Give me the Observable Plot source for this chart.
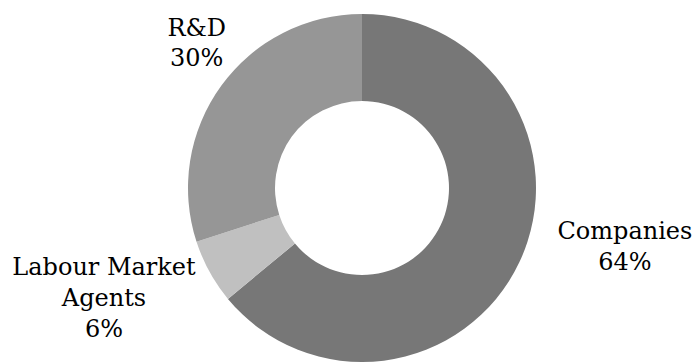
<!DOCTYPE html>
<html><head><meta charset="utf-8">
<script src="https://cdn.jsdelivr.net/npm/d3@7"></script>
<script src="https://cdn.jsdelivr.net/npm/@observablehq/plot@0.6"></script>
<style>html,body{margin:0;padding:0;background:#fff;}
#chart svg, #chart svg text { font-family: "DejaVu Serif", serif !important; }</style>
</head><body><div id="chart"></div>
<script>
// Data
const categories = ["Companies", "Labour Market Agents", "R&D"];
const labelLines = ["Companies", "Labour Market\nAgents", "R&D"];
const shares = [64, 6, 30];
const colors = ["#777777", "#c0c0c0", "#969696"];

// Layout
const W = 693, H = 363, cx = 362, cy = 188, R = 174, innerRatio = 0.5;
const nudge = {"Companies": [105, -18], "Labour Market Agents": [-106, 24], "R&D": [-25, -45]};

const data = categories.map((c, i) => ({category: c, label: labelLines[i], value: shares[i]}));
const slices = d3.pie().value(d => d.value).sort(null)(data).map(p => ({
  ...p.data, startAngle: p.startAngle, endAngle: p.endAngle, mid: (p.startAngle + p.endAngle) / 2
}));

const arcMark = (index, scales) => {
  const x = scales.x, y = scales.y, color = scales.color;
  const ox = x(0), oy = y(0), r = x(1) - x(0);
  const arc = d3.arc().innerRadius(r * innerRatio).outerRadius(r);
  const g = d3.create("svg:g").attr("transform", `translate(${ox},${oy})`);
  g.selectAll("path").data(slices).join("path")
    .attr("d", arc)
    .attr("fill", d => color(d.category));
  return g.node();
};

const plot = Plot.plot({
  width: W, height: H, margin: 0,
  style: {background: "#fff"},
  x: {domain: [-cx / R, (W - cx) / R], axis: null},
  y: {domain: [-(H - cy) / R, cy / R], axis: null},
  color: {domain: categories, range: colors},
  marks: [
    arcMark,
    Plot.text(slices, {
      x: d => Math.sin(d.mid) + nudge[d.category][0] / R,
      y: d => Math.cos(d.mid) - nudge[d.category][1] / R,
      text: d => `${d.label}\n${d.value}%`,
      textAnchor: "middle",
      lineAnchor: "middle",
      lineHeight: 1.28,
      fontSize: 24,
      fill: "#000"
    })
  ]
});
document.getElementById("chart").appendChild(plot);
</script>
</body></html>
